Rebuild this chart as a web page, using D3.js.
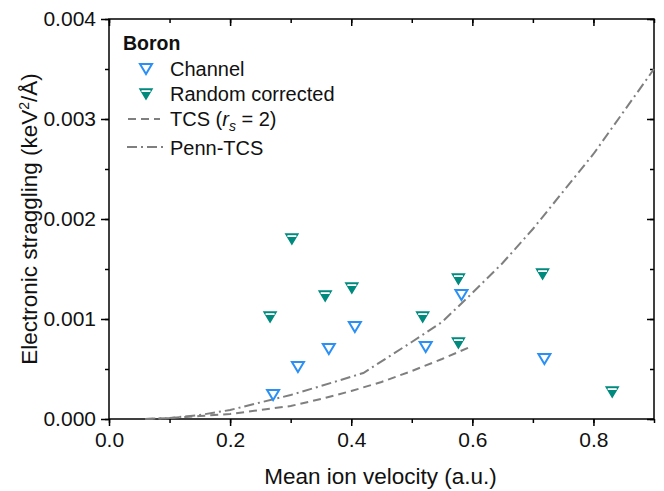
<!DOCTYPE html>
<html>
<head>
<meta charset="utf-8">
<script src="https://cdn.jsdelivr.net/npm/d3@7"></script>
<style>
  body { margin: 0; background: #fff; }
  text { font-family: Arial, "Liberation Sans", sans-serif; }
</style>
</head>
<body>
<div id="chart"></div>
<script>
// values
var channelV = [0.271, 0.312, 0.363, 0.406, 0.523, 0.582, 0.719];
var channelS = [0.00024, 0.00052, 0.00070, 0.00092, 0.00072, 0.00124, 0.00060];

var randomV = [0.266, 0.302, 0.357, 0.401, 0.518, 0.577, 0.577, 0.716, 0.831];
var randomS = [0.00102, 0.00180, 0.00123, 0.00131, 0.00102, 0.00140, 0.00076, 0.00145, 0.00027];

var tcsV = [0.06, 0.1, 0.15, 0.2, 0.25, 0.3, 0.35, 0.4, 0.45, 0.5, 0.55, 0.6];
var tcsS = [0, 0.00001, 0.00003, 0.00005, 0.00009, 0.00013, 0.00020, 0.00028, 0.00037, 0.00048, 0.00060, 0.00073];

var pennV = [0.06, 0.1, 0.15, 0.2, 0.233, 0.3, 0.35, 0.42, 0.5, 0.55, 0.6, 0.65, 0.7, 0.8, 0.9];
var pennS = [0, 0.00001, 0.00004, 0.00009, 0.00014, 0.00024, 0.00033, 0.00046, 0.00077, 0.00097, 0.00126, 0.00156, 0.0019, 0.00265, 0.0035];

var xTicks = [0, 0.2, 0.4, 0.6, 0.8];
var yTicks = [0, 0.001, 0.002, 0.003, 0.004];

var blue = "#2b90f5", teal = "#008a7e", grey = "#7f7f7f";

var margin = {top: 19, right: 10, bottom: 72, left: 109},
    width = 664 - margin.left - margin.right,
    height = 491 - margin.top - margin.bottom;

var x = d3.scaleLinear().domain([0, 0.9]).range([0, width]);
var y = d3.scaleLinear().domain([0, 0.004]).range([height, 0]);

var svg = d3.select("#chart").append("svg")
    .attr("width", 664)
    .attr("height", 491);

var g = svg.append("g")
    .attr("transform", "translate(" + margin.left + "," + margin.top + ")");

var xMinor = d3.range(0, 0.91, 0.1), yMinor = d3.range(0, 0.00401, 0.0005);

// minor ticks (outward bottom/left, inward top/right)
function minorAxis(axis, ticks) {
  return axis.tickValues(ticks).tickSize(4).tickFormat("");
}
g.append("g").attr("transform", "translate(0," + height + ")").call(minorAxis(d3.axisBottom(x), xMinor));
g.append("g").call(minorAxis(d3.axisLeft(y), yMinor));
g.append("g").call(minorAxis(d3.axisBottom(x), xMinor));
g.append("g").attr("transform", "translate(" + width + ",0)").call(minorAxis(d3.axisLeft(y), yMinor));

//draw X-axis
g.append("g")
    .attr("transform", "translate(0," + height + ")")
    .call(d3.axisBottom(x).tickValues(xTicks).tickSize(7).tickPadding(6).tickFormat(d3.format(".1f")));
//draw Y-axis
g.append("g")
    .call(d3.axisLeft(y).tickValues(yTicks).tickSize(8).tickPadding(5).tickFormat(d3.format(".3f")));
// top & right, inward
g.append("g").call(d3.axisBottom(x).tickValues(xTicks).tickSize(7).tickFormat(""));
g.append("g").attr("transform", "translate(" + width + ",0)")
    .call(d3.axisLeft(y).tickValues(yTicks).tickSize(7).tickFormat(""));

g.selectAll(".domain").remove();
g.selectAll(".tick line").attr("stroke", "#000").attr("stroke-width", 1.5);
g.selectAll(".tick text").attr("fill", "#111").style("font-size", "21px");

// frame
g.append("rect")
    .attr("width", width).attr("height", height)
    .attr("fill", "none").attr("stroke", "#000").attr("stroke-width", 1.5);

// axis titles
svg.append("text")
    .attr("x", margin.left + width / 2 - 1)
    .attr("y", 484)
    .attr("text-anchor", "middle")
    .style("font-size", "22.5px")
    .attr("fill", "#111")
    .text("Mean ion velocity (a.u.)");

var yt = svg.append("text")
    .attr("transform", "translate(37," + (margin.top + height / 2) + ") rotate(-90)")
    .attr("text-anchor", "middle")
    .style("font-size", "22.5px")
    .attr("fill", "#111");
yt.append("tspan").text("Electronic straggling (keV");
yt.append("tspan").attr("dy", -8).style("font-size", "14px").text("2");
yt.append("tspan").attr("dy", 8).text("/Å)");

// lines
var lineGen = d3.line()
    .x(function(d) { return x(d[0]); })
    .y(function(d) { return y(d[1]); });

g.append("path")
    .datum(d3.zip(tcsV, tcsS))
    .attr("fill", "none")
    .attr("stroke", grey)
    .attr("stroke-width", 2)
    .attr("stroke-dasharray", "8,5")
    .attr("d", lineGen);

g.append("path")
    .datum(d3.zip(pennV, pennS))
    .attr("fill", "none")
    .attr("stroke", grey)
    .attr("stroke-width", 2)
    .attr("stroke-dasharray", "10,4,2,4")
    .attr("d", lineGen);

// markers
var tri = "M-6,-5L6,-5L0,5Z";

function channelMark(sel) {
  sel.append("path").attr("d", tri)
    .attr("fill", "#fff").attr("stroke", blue).attr("stroke-width", 2);
}
function randomMark(sel) {
  sel.append("path").attr("d", tri)
    .attr("fill", teal).attr("stroke", teal).attr("stroke-width", 1.5);
  sel.append("rect").attr("x", -4.5).attr("y", -3.8).attr("width", 9).attr("height", 1.8)
    .attr("fill", "#fff");
}

g.append("g").selectAll("g")
    .data(d3.zip(randomV, randomS))
    .enter().append("g")
    .attr("transform", function(d) { return "translate(" + x(d[0]) + "," + y(d[1]) + ")"; })
    .call(randomMark);

g.append("g").selectAll("g")
    .data(d3.zip(channelV, channelS))
    .enter().append("g")
    .attr("transform", function(d) { return "translate(" + x(d[0]) + "," + y(d[1]) + ")"; })
    .call(channelMark);

// legend
var legend = svg.append("g").attr("class", "legend");

legend.append("text")
    .attr("x", 123).attr("y", 50)
    .style("font-size", "19.5px").style("font-weight", "bold")
    .attr("fill", "#111")
    .text("Boron");

legend.append("g").attr("transform", "translate(146,69)").call(channelMark);
legend.append("g").attr("transform", "translate(146,94)").call(randomMark);

legend.append("line")
    .attr("x1", 128).attr("x2", 160).attr("y1", 119).attr("y2", 119)
    .attr("stroke", grey).attr("stroke-width", 2).attr("stroke-dasharray", "8,5");
legend.append("line")
    .attr("x1", 127).attr("x2", 165).attr("y1", 147).attr("y2", 147)
    .attr("stroke", grey).attr("stroke-width", 2).attr("stroke-dasharray", "10,4,2,4");

var labels = legend.append("g").style("font-size", "20px").attr("fill", "#111");
labels.append("text").attr("x", 170).attr("y", 76).text("Channel");
labels.append("text").attr("x", 170).attr("y", 101).text("Random corrected");
var tcsText = labels.append("text").attr("x", 170).attr("y", 126);
tcsText.append("tspan").text("TCS (");
tcsText.append("tspan").style("font-style", "italic").text("r");
tcsText.append("tspan").style("font-style", "italic").style("font-size", "14px").attr("dy", 5).text("s");
tcsText.append("tspan").attr("dy", -5).text(" = 2)");
labels.append("text").attr("x", 170).attr("y", 155).text("Penn-TCS");
</script>
</body>
</html>
